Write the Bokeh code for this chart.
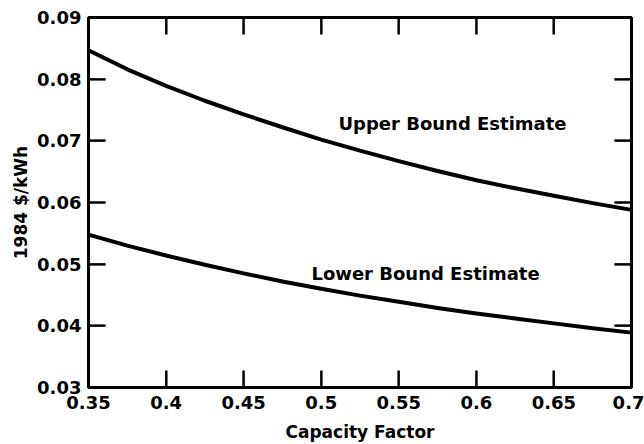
from bokeh.plotting import figure
from bokeh.models import LinearAxis, FixedTicker, CustomJSTickFormatter, Range1d, Label
from bokeh.embed import file_html
from bokeh.resources import INLINE

# ---- data ----
capacity_factor = [0.35, 0.375, 0.40, 0.425, 0.45, 0.475, 0.50, 0.525,
                   0.55, 0.575, 0.60, 0.625, 0.65, 0.675, 0.70]
upper_bound = [0.0847, 0.0816, 0.0789, 0.0765, 0.0743, 0.0722, 0.0702, 0.0684,
               0.0667, 0.0651, 0.0636, 0.0623, 0.0611, 0.0599, 0.0588]
lower_bound = [0.0548, 0.0530, 0.0514, 0.0499, 0.0485, 0.0472, 0.0460, 0.0449,
               0.0439, 0.0429, 0.0420, 0.0412, 0.0404, 0.0396, 0.0389]

x_ticks = [0.35, 0.4, 0.45, 0.5, 0.55, 0.6, 0.65, 0.7]
x_tick_labels = ["0.35", "0.4", "0.45", "0.5", "0.55", "0.6", "0.65", "0.7"]
y_ticks = [0.03, 0.04, 0.05, 0.06, 0.07, 0.08, 0.09]
y_tick_labels = ["0.03", "0.04", "0.05", "0.06", "0.07", "0.08", "0.09"]

upper_text = "Upper Bound Estimate"
lower_text = "Lower Bound Estimate"
x_title = "Capacity Factor"
y_title = "1984 $/kWh"

FONT = "DejaVu Sans"
X0, X1 = 0.35, 0.7
Y0, Y1 = 0.03, 0.09
W, H = 644, 444
BL, BR, BT, BB = 88, 13, 17, 54
FRAME_W, FRAME_H = W - BL - BR, H - BT - BB
TICK_PX = 17
tick_dx = TICK_PX / FRAME_W * (X1 - X0)   # inward tick length in data units
tick_dy = TICK_PX / FRAME_H * (Y1 - Y0)

p = figure(width=W, height=H, output_backend="svg", toolbar_location=None,
           x_range=Range1d(X0, X1), y_range=Range1d(Y0, Y1),
           min_border_left=BL, min_border_right=BR, min_border_top=BT, min_border_bottom=BB,
           background_fill_color="white", border_fill_color="white")

p.xgrid.visible = False
p.ygrid.visible = False
p.outline_line_color = "black"
p.outline_line_width = 3


def style_axis(ax, ticks, labels, show):
    ax.ticker = FixedTicker(ticks=ticks)
    ax.axis_line_width = 3
    ax.axis_line_color = "black"
    ax.major_tick_in = TICK_PX
    ax.major_tick_out = 0
    ax.major_tick_line_width = 2
    ax.major_tick_line_color = "black"
    ax.minor_tick_line_color = None
    if show:
        ax.major_label_overrides = {t: l for t, l in zip(ticks, labels)}
        ax.major_label_text_font = FONT
        ax.major_label_text_font_style = "bold"
        ax.major_label_text_font_size = "18px"
        ax.major_label_text_color = "black"
        ax.axis_label_text_font = FONT
        ax.axis_label_text_font_style = "bold"
        ax.axis_label_text_font_size = "17px"
        ax.axis_label_text_color = "black"
    else:
        ax.formatter = CustomJSTickFormatter(code="return ''")
        ax.major_label_standoff = 0


xa = p.xaxis[0]
style_axis(xa, x_ticks, x_tick_labels, True)
xa.axis_label = x_title
xa.major_label_standoff = 8
xa.axis_label_standoff = 10

ya = p.yaxis[0]
style_axis(ya, y_ticks, y_tick_labels, True)
ya.axis_label = y_title
ya.major_label_standoff = 7
ya.axis_label_standoff = 3

top = LinearAxis()
style_axis(top, x_ticks, x_tick_labels, False)
p.add_layout(top, "above")

right = LinearAxis()
style_axis(right, y_ticks, y_tick_labels, False)
p.add_layout(right, "right")

# inward tick marks on all four sides as short lines, positioned from the tick lists
tick_xs, tick_ys = [], []
for t in x_ticks:
    tick_xs += [[t, t], [t, t]]
    tick_ys += [[Y0, Y0 + tick_dy], [Y1, Y1 - tick_dy]]
for t in y_ticks:
    tick_xs += [[X0, X0 + tick_dx], [X1, X1 - tick_dx]]
    tick_ys += [[t, t], [t, t]]
p.multi_line(xs=tick_xs, ys=tick_ys, line_color="black", line_width=2)

p.line(capacity_factor, upper_bound, line_color="black", line_width=4, line_join="round")
p.line(capacity_factor, lower_bound, line_color="black", line_width=4, line_join="round")

for txt, xx, yy in [(upper_text, 0.5111, 0.0728), (lower_text, 0.4937, 0.0485)]:
    p.add_layout(Label(x=xx, y=yy, text=txt, text_font=FONT, text_font_style="bold",
                       text_font_size="18px", text_color="black", text_baseline="alphabetic",
                       text_align="left"))

open("out.html", "w").write(file_html(p, INLINE))
